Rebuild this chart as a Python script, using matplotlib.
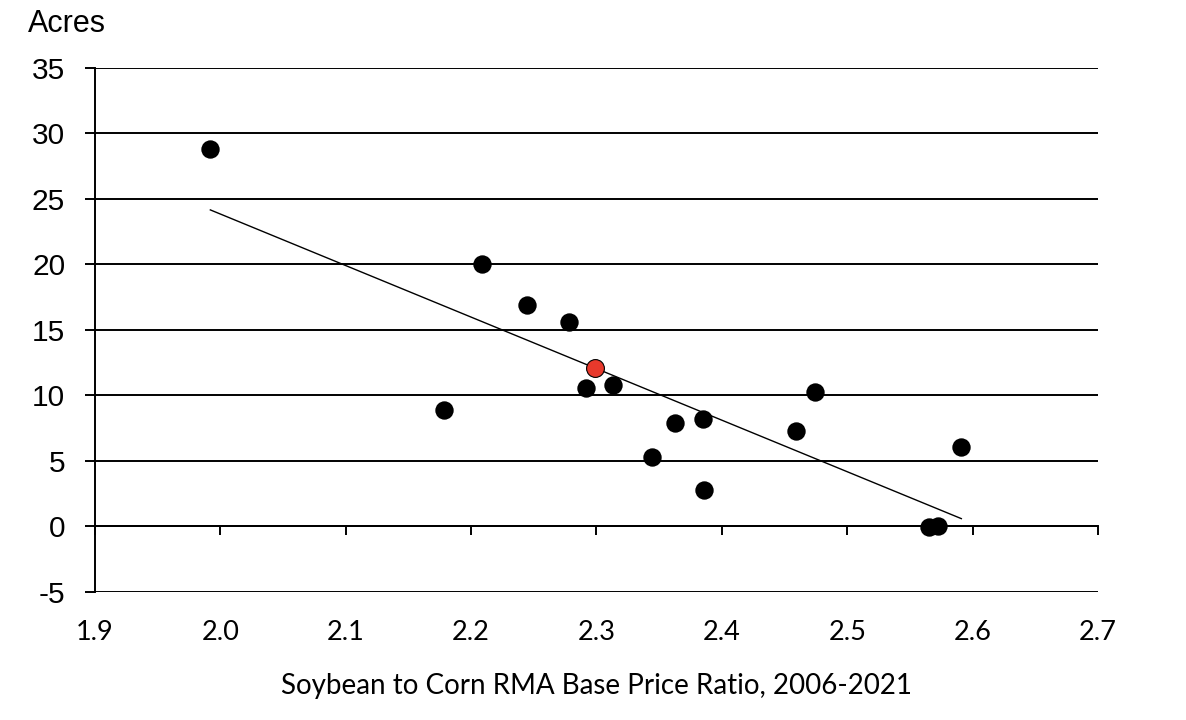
import numpy as np
import matplotlib
matplotlib.use("Agg")
import matplotlib.pyplot as plt

# Data (black points: 2006-2021; red point highlighted)
ratio = [1.992, 2.178, 2.209, 2.2445, 2.278, 2.292, 2.313, 2.344, 2.363,
         2.385, 2.386, 2.459, 2.474, 2.565, 2.572, 2.591]
acres = [28.8, 8.9, 20.0, 16.9, 15.6, 10.6, 10.8, 5.3, 7.9,
         8.2, 2.8, 7.3, 10.3, -0.05, 0.05, 6.1]
red_ratio = [2.299]
red_acres = [12.1]

x_ticks = [1.9, 2.0, 2.1, 2.2, 2.3, 2.4, 2.5, 2.6, 2.7]
y_ticks = [-5, 0, 5, 10, 15, 20, 25, 30, 35]

fig = plt.figure(figsize=(11.86, 7.2), dpi=100)
ax = fig.add_axes([0.0801, 0.1778, 0.9258 - 0.0801, 0.9056 - 0.1778])

ax.set_xlim(1.9, 2.7)
ax.set_ylim(-5, 35)

# grid lines
for yv in y_ticks:
    ax.axhline(yv, color="black", lw=1.4, zorder=1)

# trend line (least squares on black points)
xa = np.array(ratio)
ya = np.array(acres)
m, b = np.polyfit(xa, ya, 1)
xl = np.array([xa.min(), xa.max()])
ax.plot(xl, m * xl + b, color="black", lw=1.0, zorder=2)

ax.scatter(ratio, acres, s=175, color="black", zorder=3, linewidths=0)
ax.scatter(red_ratio, red_acres, s=165, color="#e8392c", edgecolor="black",
           linewidths=0.8, zorder=4)

# spines
for s in ["top", "right"]:
    ax.spines[s].set_visible(False)
ax.spines["left"].set_linewidth(1.4)
ax.spines["bottom"].set_position(("data", 0))
ax.spines["bottom"].set_linewidth(1.4)

ax.set_yticks(y_ticks)
ax.set_yticklabels([str(v) for v in y_ticks], fontfamily="Liberation Sans", fontsize=21.5)
ax.tick_params(axis="y", direction="out", length=7.5, width=1.4, pad=14)

ax.set_xticks(x_ticks)
ax.tick_params(axis="x", direction="out", length=6.5, width=1.4, labelbottom=False)

sec = ax.secondary_xaxis("bottom")
sec.set_xticks(x_ticks)
sec.set_xticklabels([f"{v:.1f}" for v in x_ticks], fontfamily="Lato", fontsize=19.5)
sec.tick_params(length=0, pad=20)
for s in sec.spines.values():
    s.set_visible(False)
sec.set_xlabel("Soybean to Corn RMA Base Price Ratio, 2006-2021",
               fontfamily="Lato", fontsize=20, labelpad=20)

fig.text(28 / 1186, 1 - 24 / 720, "Acres", fontfamily="Liberation Sans",
         fontsize=22, ha="left", va="center")

fig.savefig("out.png", dpi=100)
